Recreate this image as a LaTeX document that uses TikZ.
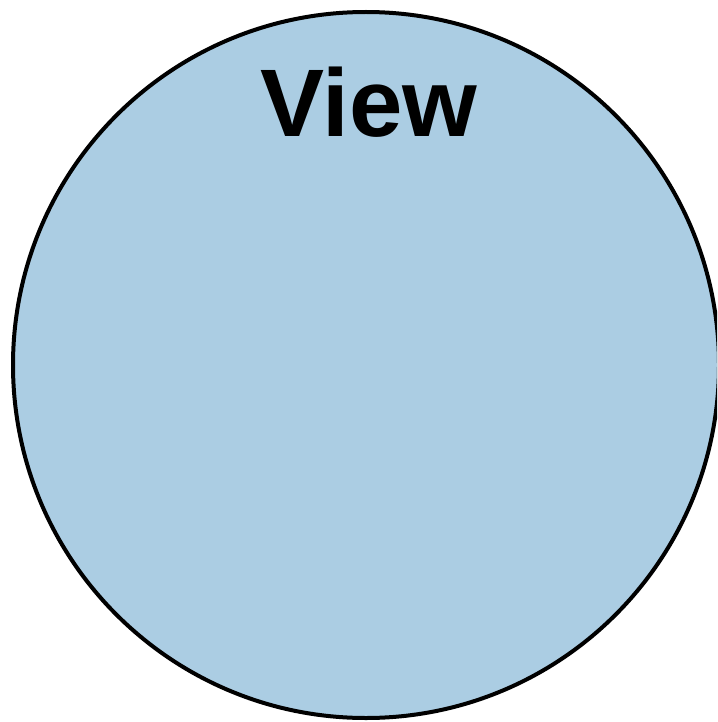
\documentclass[tikz,border=0pt]{standalone}
\usepackage{fontspec}
\setmainfont{Liberation Sans}
\definecolor{viewblue}{RGB}{171,205,227}
\begin{document}
\begin{tikzpicture}[x=1pt,y=-1pt,
  viewcircle/.style={circle,draw=black,fill=viewblue,line width=4pt,minimum size=706pt,inner sep=0pt},
  viewlabel/.style={font=\bfseries\fontsize{96}{96}\selectfont,inner sep=0pt,anchor=base}]
\useasboundingbox (0,0) rectangle (717,722);
\clip (0,0) rectangle (717,722);
\node[viewcircle] (view) at (366,365) {};
\node[viewlabel] (label) at (369,137) {View};
\end{tikzpicture}
\end{document}
